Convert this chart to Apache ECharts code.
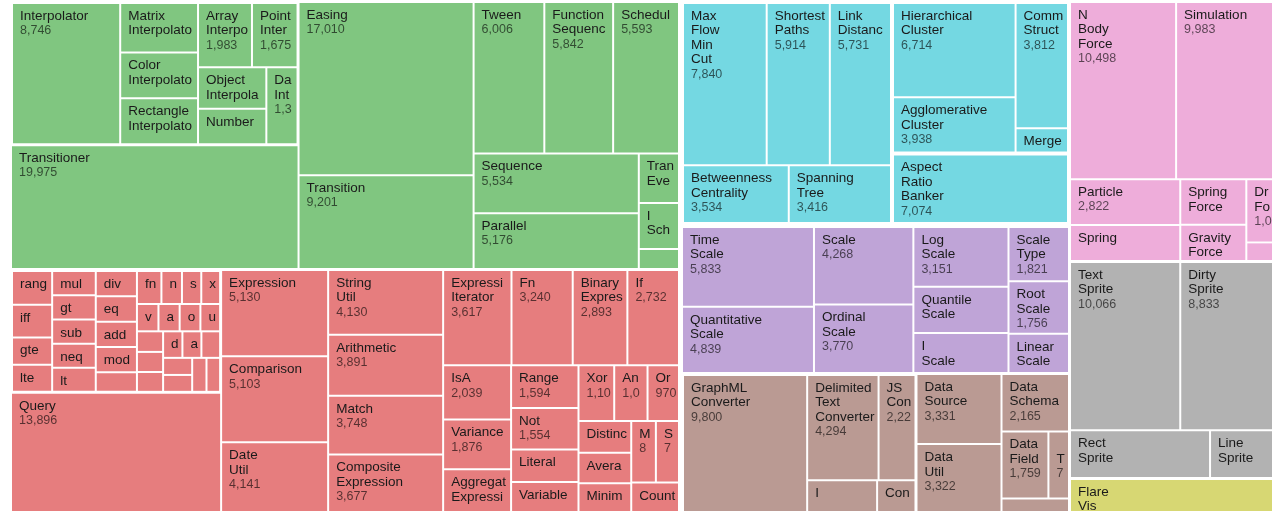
<!DOCTYPE html>
<html>
<head>
<meta charset="utf-8">
<style>
  html, body { margin: 0; padding: 0; background: #fff; }
  #chart { width: 1272px; height: 511px; }
</style>
<script src="https://cdn.jsdelivr.net/npm/echarts@6/dist/echarts.min.js"></script>
</head>
<body>
<div id="chart"></div>
<script>
// flare classes, [name, size]
var animate = [["Easing", 17010], ["FunctionSequence", 5842], ["ISchedulable", 1041], ["Parallel", 5176],
  ["Pause", 449], ["Scheduler", 5593], ["Sequence", 5534], ["Transition", 9201], ["Transitioner", 19975],
  ["TransitionEvent", 1116], ["Tween", 6006]];
var animateInterpolate = [["ArrayInterpolator", 1983], ["ColorInterpolator", 2047], ["DateInterpolator", 1375],
  ["Interpolator", 8746], ["MatrixInterpolator", 2202], ["NumberInterpolator", 1382], ["ObjectInterpolator", 1629],
  ["PointInterpolator", 1675], ["RectangleInterpolator", 2042]];

var query = [["AggregateExpression", 1616], ["And", 1027], ["Arithmetic", 3891], ["Average", 891],
  ["BinaryExpression", 2893], ["Comparison", 5103], ["CompositeExpression", 3677], ["Count", 781],
  ["DateUtil", 4141], ["Distinct", 933], ["Expression", 5130], ["ExpressionIterator", 3617], ["Fn", 3240],
  ["If", 2732], ["IsA", 2039], ["Literal", 1214], ["Match", 3748], ["Maximum", 843], ["Minimum", 843],
  ["Not", 1554], ["Or", 970], ["Query", 13896], ["Range", 1594], ["StringUtil", 4130], ["Sum", 791],
  ["Variable", 1124], ["Variance", 1876], ["Xor", 1101]];
var queryMethods = [["add", 593], ["and", 330], ["average", 287], ["count", 277], ["distinct", 292], ["div", 595],
  ["eq", 594], ["fn", 460], ["gt", 603], ["gte", 625], ["iff", 748], ["isa", 461], ["lt", 597], ["lte", 619],
  ["max", 283], ["min", 283], ["mod", 591], ["mul", 603], ["neq", 599], ["not", 386], ["or", 323],
  ["orderby", 307], ["range", 772], ["select", 296], ["stddev", 363], ["sub", 600], ["sum", 280],
  ["update", 307], ["variance", 335], ["where", 299], ["xor", 354], ["_", 264]];

var analyticsCluster = [["AgglomerativeCluster", 3938], ["CommunityStructure", 3812],
  ["HierarchicalCluster", 6714], ["MergeEdge", 743]];
var analyticsGraph = [["BetweennessCentrality", 3534], ["LinkDistance", 5731], ["MaxFlowMinCut", 7840],
  ["ShortestPaths", 5914], ["SpanningTree", 3416]];
var analyticsOptimization = [["AspectRatioBanker", 7074]];

var scale = [["IScaleMap", 2105], ["LinearScale", 1316], ["LogScale", 3151], ["OrdinalScale", 3770],
  ["QuantileScale", 2435], ["QuantitativeScale", 4839], ["RootScale", 1756], ["Scale", 4268],
  ["ScaleType", 1821], ["TimeScale", 5833]];

var data = [["DataField", 1759], ["DataSchema", 2165], ["DataSet", 586], ["DataSource", 3331],
  ["DataTable", 772], ["DataUtil", 3322]];
var dataConverters = [["Converters", 721], ["DelimitedTextConverter", 4294], ["GraphMLConverter", 9800],
  ["IDataConverter", 1314], ["JSONConverter", 2220]];

var physics = [["DragForce", 1082], ["GravityForce", 1336], ["IForce", 319], ["NBodyForce", 10498],
  ["Particle", 2822], ["Simulation", 9983], ["Spring", 2213], ["SpringForce", 1681]];
var display = [["DirtySprite", 8833], ["LineSprite", 1732], ["RectSprite", 3623], ["TextSprite", 10066]];
var flex = [["FlareVis", 4116]];

var font = "'Liberation Sans', Arial, sans-serif";

function leaves(list) {
  return list.map(function (d) { return { name: d[0], value: d[1] }; });
}
function group(name, list) {
  return { name: name, children: leaves(list), itemStyle: { borderWidth: 1, borderColor: "#fff" } };
}

function labelText(p) {
  var parts = p.name.split(/(?=[A-Z][a-z])|\s+/g);
  return parts.map(function (s) { return "{n|" + s + "}"; }).join("\n") +
    "\n{v|" + p.value.toLocaleString("en-US") + "}";
}

function makeSeries(name, color, box, nodes) {
  return {
    type: "treemap",
    name: name,
    left: box[0], top: box[1], width: box[2], height: box[3],
    roam: false,
    nodeClick: false,
    breadcrumb: { show: false },
    visibleMin: 0,
    animation: false,
    itemStyle: { borderColor: "#fff", borderWidth: 0, gapWidth: 2 },
    levels: [
      { color: [color], itemStyle: { color: color, borderColor: "#fff", borderWidth: 0, gapWidth: 2 } },
      { color: [color], itemStyle: { color: color, gapWidth: 2 } },
      { color: [color], itemStyle: { color: color, gapWidth: 2 } }
    ],
    label: {
      show: true,
      position: "insideTopLeft",
      padding: [5, 1, 0, 7],
      overflow: "truncate",
      ellipsis: "",
      fontFamily: font,
      formatter: labelText,
      rich: {
        n: { fontFamily: font, fontSize: 13.5, lineHeight: 14.5, color: "#1a1a1a" },
        v: { fontFamily: font, fontSize: 12.5, lineHeight: 14.5, color: "rgba(0,0,0,0.62)" }
      }
    },
    emphasis: { disabled: true },
    data: nodes
  };
}

var chart = echarts.init(document.getElementById("chart"), null, { renderer: "canvas" });

chart.setOption({
  backgroundColor: "#fff",
  series: [
    makeSeries("animate", "#80c680", [12, 3, 666, 265],
      leaves(animate).concat([group("interpolate", animateInterpolate)])),
    makeSeries("query", "#e67d7e", [12, 271, 666, 240],
      leaves(query).concat([group("methods", queryMethods)])),
    makeSeries("analytics", "#74d8e2", [683, 3, 385, 220],
      [group("cluster", analyticsCluster), group("graph", analyticsGraph),
       group("optimization", analyticsOptimization)]),
    makeSeries("scale", "#bfa4d7", [683, 228, 385, 144], leaves(scale)),
    makeSeries("data", "#ba9a93", [683, 375, 385, 138],
      leaves(data).concat([group("converters", dataConverters)])),
    makeSeries("physics", "#eeadda", [1071, 3, 205, 257], leaves(physics)),
    makeSeries("display", "#b2b2b2", [1071, 263, 205, 214], leaves(display)),
    makeSeries("flex", "#d7d773", [1071, 480, 205, 40], leaves(flex))
  ]
});
</script>
</body>
</html>
